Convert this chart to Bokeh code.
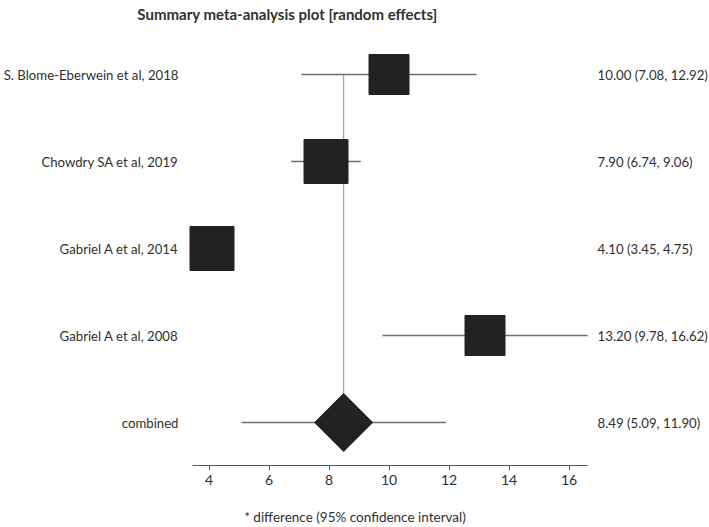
import math
from bokeh.plotting import figure
from bokeh.models import Range1d, FixedTicker, LinearAxis
from bokeh.core.properties import value
from bokeh.embed import file_html
from bokeh.resources import INLINE

# ---- data ----
studies = ["S. Blome-Eberwein et al, 2018", "Chowdry SA et al, 2019",
           "Gabriel A et al, 2014", "Gabriel A et al, 2008"]
estimate = [10.00, 7.90, 4.10, 13.20]
lower = [7.08, 6.74, 3.45, 9.78]
upper = [12.92, 9.06, 4.75, 16.62]
combined_label = "combined"
combined_est = 8.49
combined_lower = 5.09
combined_upper = 11.90
x_ticks = [4, 6, 8, 10, 12, 14, 16]
title_text = "Summary meta-analysis plot [random effects]"
x_label = "* difference (95% confidence interval)"

# ---- style / layout ----
box_sizes = [40, 44, 44, 40]
FONT = "Lato"
TXT = "#303030"
W, H = 709, 527
px_x = 30.0          # pixels per x unit
px_y = 87.0          # pixels per row
frame_bottom_px = 465
left_px = 192        # px where the axis starts

lo_all = min(lower + [combined_lower])
hi_all = max(upper + [combined_upper])
x_start = lo_all - left_px / px_x
x_end = x_start + W / px_x

n = len(studies)
rows = [n + 1 - i for i in range(n)]   # 5,4,3,2
comb_row = 1
y_start = comb_row - (frame_bottom_px - 422) / px_y
y_end = y_start + frame_bottom_px / px_y

p = figure(width=W, height=H, output_backend="svg", toolbar_location=None,
           x_range=Range1d(x_start, x_end), y_range=Range1d(y_start, y_end),
           x_axis_location=None, y_axis_location=None,
           min_border=0, min_border_left=0, min_border_right=0,
           min_border_top=0, min_border_bottom=H - frame_bottom_px)
p.outline_line_color = None
p.xgrid.visible = False
p.ygrid.visible = False
p.background_fill_color = "white"
p.border_fill_color = "white"

ax = LinearAxis(bounds=(lo_all, hi_all), ticker=FixedTicker(ticks=x_ticks))
ax.axis_line_color = "#555555"
ax.major_tick_line_color = "#555555"
ax.minor_tick_line_color = None
ax.major_tick_in = 0
ax.major_tick_out = 5
ax.major_label_standoff = 4
ax.major_label_text_font = FONT
ax.major_label_text_font_size = "14px"
ax.major_label_text_color = TXT
ax.axis_label = x_label
ax.axis_label_text_font = FONT
ax.axis_label_text_font_size = "13.5px"
ax.axis_label_text_font_style = "normal"
ax.axis_label_text_color = TXT
ax.axis_label_standoff = 21
p.add_layout(ax, "below")

# dotted reference line at combined estimate
p.segment(x0=[combined_est], y0=[rows[0]], x1=[combined_est], y1=[comb_row],
          line_color="#1a1a1a", line_width=1, line_dash="1 1")

# CI lines
p.segment(x0=lower, y0=rows, x1=upper, y1=rows, line_color="#6e6e6e", line_width=1.3)
p.segment(x0=[combined_lower], y0=[comb_row], x1=[combined_upper], y1=[comb_row],
          line_color="#6e6e6e", line_width=1.3)

# boxes
p.scatter(x=estimate, y=rows, marker="square", size=box_sizes,
          fill_color="#222222", line_color="#222222")
# diamond
p.scatter(x=[combined_est], y=[comb_row], marker="square", size=41, angle=math.pi / 4,
          fill_color="#222222", line_color="#222222")

# left labels
p.text(x=[lo_all] * (n + 1), y=rows + [comb_row], text=studies + [combined_label],
       x_offset=-14, text_align="right", text_baseline="middle",
       text_font=value(FONT), text_font_size="13.2px", text_color=TXT)

# right labels
right = [f"{e:.2f} ({l:.2f}, {u:.2f})" for e, l, u in zip(estimate, lower, upper)]
right.append(f"{combined_est:.2f} ({combined_lower:.2f}, {combined_upper:.2f})")
p.text(x=[hi_all] * (n + 1), y=rows + [comb_row], text=right,
       x_offset=10, text_align="left", text_baseline="middle",
       text_font=value(FONT), text_font_size="13.2px", text_color=TXT)

# title
p.text(x=[x_start + 287 / px_x], y=[rows[0] + (74 - 13) / px_y], text=[title_text],
       text_align="center", text_baseline="middle",
       text_font=value(FONT), text_font_size="15px", text_font_style="bold",
       text_color=TXT)

open("out.html", "w").write(file_html(p, INLINE))
